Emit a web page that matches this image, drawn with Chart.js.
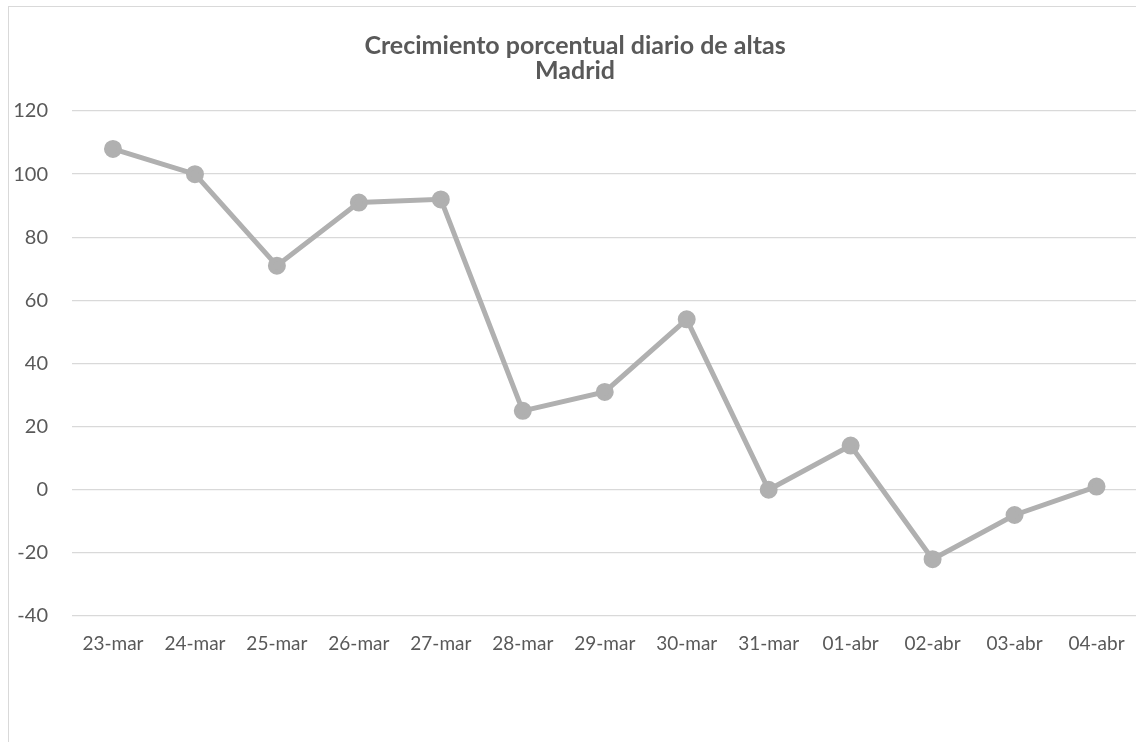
<!DOCTYPE html>
<html>
<head>
<meta charset="utf-8">
<script src="https://cdn.jsdelivr.net/npm/chart.js@4"></script>
<style>
  html,body{margin:0;padding:0;background:#fff;overflow:hidden;width:1136px;height:742px}
  #frame{position:absolute;left:8px;top:6px;width:1140px;height:760px;border:1.5px solid #d9d9d9;box-sizing:border-box}
  #box{position:absolute;left:0;top:0;width:1140px;height:736px}
</style>
</head>
<body>
<div id="frame"><div id="box"><canvas id="c"></canvas></div></div>
<script>
// ====== DATA ======
const days = ['23-mar','24-mar','25-mar','26-mar','27-mar','28-mar','29-mar','30-mar','31-mar','01-abr','02-abr','03-abr','04-abr'];
const growth = [108, 100, 71, 91, 92, 25, 31, 54, 0, 14, -22, -8, 1];
const titleLines = ['Crecimiento porcentual diario de altas', 'Madrid'];

const FONT = 'Lato, "Noto Sans", sans-serif';
const TXT = '#595959';

new Chart(document.getElementById('c'), {
  type: 'line',
  data: { labels: days, datasets: [{
    data: growth, borderColor: '#b0b0b0', backgroundColor: '#b0b0b0',
    borderWidth: 5, pointRadius: 6.5, pointHoverRadius: 6.5, tension: 0
  }]},
  options: {
    responsive: true, maintainAspectRatio: false, animation: false,
    layout: { padding: { left: 0, right: 8, top: 0, bottom: 87 } },
    plugins: {
      legend: { display: false }, tooltip: { enabled: false },
      title: { display: true, text: titleLines, color: TXT,
        font: { family: FONT, size: 25, weight: 'bold', lineHeight: 1.0 },
        padding: { top: 26, bottom: 28 } }
    },
    scales: {
      x: { offset: true, grid: { display: false }, border: { display: false },
        ticks: { color: TXT, font: { family: FONT, size: 19 }, padding: 8, maxRotation: 0 },
        afterFit: s => { s.height = 40; } },
      y: { min: -40, max: 120, grid: { color: '#d9d9d9', lineWidth: 1.3, drawTicks: false },
        border: { display: false },
        ticks: { stepSize: 20, color: TXT, font: { family: FONT, size: 20 }, padding: 24 },
        afterFit: s => { s.width = 63; } }
    }
  }
});
</script>
</body>
</html>
